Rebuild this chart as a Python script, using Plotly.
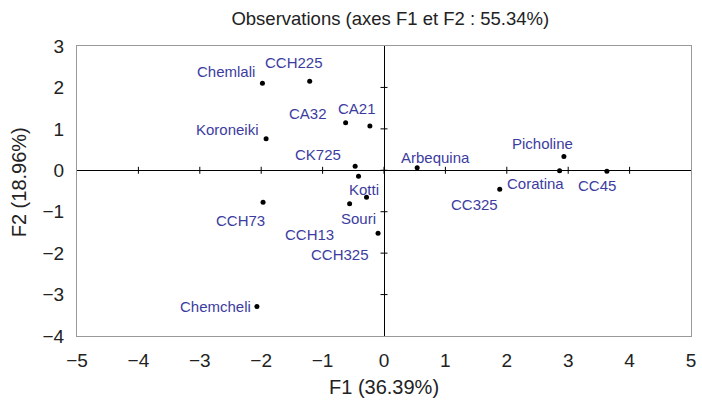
import plotly.graph_objects as go

names = ["Chemlali", "CCH225", "CA32", "CA21", "Koroneiki", "CK725", "Kotti", "Souri",
         "CCH13", "CCH325", "CCH73", "Chemcheli", "Arbequina", "Picholine", "Coratina",
         "CC45", "CC325"]
f1 = [-1.98, -1.21, -0.625, -0.23, -1.92, -0.47, -0.415, -0.285,
      -0.56, -0.097, -1.97, -2.07, 0.54, 2.93, 2.86, 3.63, 1.885]
f2 = [2.10, 2.15, 1.15, 1.07, 0.76, 0.10, -0.145, -0.65,
      -0.81, -1.52, -0.77, -3.29, 0.06, 0.33, -0.01, -0.025, -0.46]

x_ticks = [-5, -4, -3, -2, -1, 0, 1, 2, 3, 4, 5]
y_ticks = [-4, -3, -2, -1, 0, 1, 2, 3]

title_text = "Observations (axes F1 et F2 : 55.34%)"
x_title = "F1 (36.39%)"
y_title = "F2 (18.96%)"

# label placement: (xanchor, xshift, yshift)  (pixels, relative to the point)
label_style = {
    "Chemlali": ("right", -5, 12),
    "CCH225": ("center", -16, 19),
    "CA32": ("right", -17, 9),
    "CA21": ("center", -13, 17),
    "Koroneiki": ("right", -5, 9),
    "CK725": ("right", -12, 12),
    "Kotti": ("center", 5, -13),
    "Souri": ("center", -8, -21),
    "CCH13": ("right", -14, -31),
    "CCH325": ("right", -7, -21),
    "CCH73": ("right", 4, -18),
    "Chemcheli": ("right", -4, 0),
    "Arbequina": ("center", 18, 10),
    "Picholine": ("center", -21, 13),
    "Coratina": ("left", -55, -13),
    "CC45": ("center", -10, -14),
    "CC325": ("right", 0, -15),
}

BLUE = "#3c3ca0"
FONT = "Liberation Sans, Arial, sans-serif"
TXT = "#222"

fig = go.Figure()
# tick marks along the central axes
fig.add_trace(go.Scatter(x=[t for t in x_ticks if t not in (-5, 5)], y=[0] * 9,
                         mode="markers", hoverinfo="skip",
                         marker=dict(symbol="line-ns-open", size=5, color="black",
                                     line=dict(width=1, color="black"))))
fig.add_trace(go.Scatter(x=[0] * 6, y=[t for t in y_ticks if t not in (-4, 3)],
                         mode="markers", hoverinfo="skip",
                         marker=dict(symbol="line-ew-open", size=5, color="black",
                                     line=dict(width=1, color="black"))))
fig.add_trace(go.Scatter(x=f1, y=f2, mode="markers", text=names, hoverinfo="text",
                         marker=dict(size=5, color="black")))

for n, x, y in zip(names, f1, f2):
    xa, xs, ys = label_style[n]
    fig.add_annotation(x=x, y=y, text=n, showarrow=False, xanchor=xa, yanchor="middle",
                       xshift=xs, yshift=ys, font=dict(family=FONT, size=15, color=BLUE))

# axis titles
fig.add_annotation(xref="paper", yref="paper", x=0.5, y=-0.176, text=x_title,
                   showarrow=False, xanchor="center", yanchor="middle",
                   font=dict(family=FONT, size=20, color=TXT))
fig.add_annotation(xref="paper", yref="paper", x=-0.094, y=0.531, text=y_title,
                   showarrow=False, xanchor="center", yanchor="middle", textangle=-90,
                   font=dict(family=FONT, size=20, color=TXT))

fig.update_layout(
    width=702, height=403,
    margin=dict(l=77, r=6, t=46, b=67),
    paper_bgcolor="white", plot_bgcolor="white",
    showlegend=False,
    title=dict(text=title_text, x=0.556, xanchor="center",
               y=0.955, yanchor="middle", font=dict(family=FONT, size=18.5, color=TXT)),
    font=dict(family=FONT, color=TXT),
)
fig.update_xaxes(range=[-5, 5], tickvals=x_ticks, showgrid=False,
                 zeroline=True, zerolinecolor="black", zerolinewidth=1,
                 showline=True, mirror=True, linecolor="#999", linewidth=1,
                 ticks="", ticklabelstandoff=7, tickfont=dict(size=19))
fig.update_yaxes(range=[-4, 3], tickvals=y_ticks, showgrid=False,
                 zeroline=True, zerolinecolor="black", zerolinewidth=1,
                 showline=True, mirror=True, linecolor="#999", linewidth=1,
                 ticks="", ticklabelstandoff=8, tickfont=dict(size=19))

fig.write_html("out.html")
